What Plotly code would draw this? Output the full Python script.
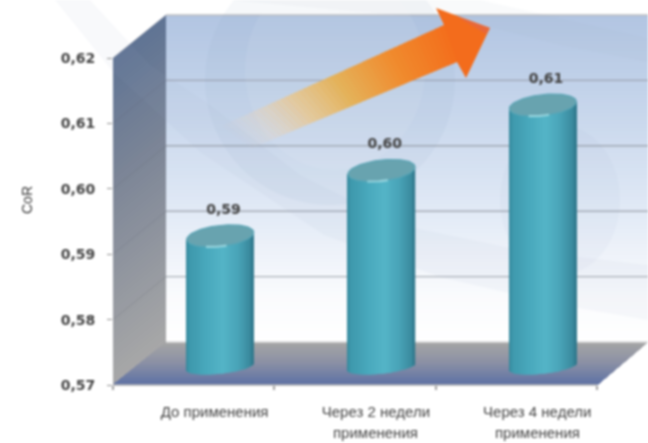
import numpy as np
import plotly.graph_objects as go

# ---- chart data ----
categories_line1 = ["До применения", "Через 2 недели", "Через 4 недели"]
categories_line2 = ["", "применения", "применения"]
values = [0.59, 0.60, 0.61]
y_ticks = [0.57, 0.58, 0.59, 0.60, 0.61, 0.62]
y_title = "CoR"

# ---- geometry (pixels of the page) ----
W, H = 648, 443
L, T, B = 113, 15, 385
PX_PER_UNIT_Y = 6540.0
PX_PER_CAT = 161.3
WALL_DX, WALL_DY = 53, 43
FRONT_R = 597


def xdata(px):
    return (px - L) / PX_PER_CAT - 0.5


def px_x(px):
    return (px - L) / (W - L)


def px_y(py):
    return (B - py) / (B - T)


def poly(points):
    return "M " + " L ".join(f"{px_x(x):.5f},{px_y(y):.5f}" for x, y in points) + " Z"


def mix(stops, t):
    ts = [s[0] for s in stops]
    chans = [np.interp(t, ts, [s[1][k] for s in stops]) for k in range(len(stops[0][1]))]
    if len(chans) == 4:
        return f"rgba({chans[0]:.0f},{chans[1]:.0f},{chans[2]:.0f},{chans[3]:.3f})"
    return f"rgb({chans[0]:.0f},{chans[1]:.0f},{chans[2]:.0f})"


shapes = []


def add_poly(points, color, layer="below"):
    shapes.append(dict(type="path", path=poly(points), xref="paper", yref="paper",
                       fillcolor=color, line=dict(width=0), layer=layer))


# back wall
back = [(0, (178, 197, 226)), (0.3, (200, 215, 236)), (0.6, (226, 234, 246)),
        (0.85, (250, 251, 253)), (1, (255, 255, 255))]
for i in range(90):
    y = T + (342 - T) * i / 90
    add_poly([(L + WALL_DX, y), (W, y), (W, 345), (L + WALL_DX, 345)], mix(back, i / 90))

# left wall
left = [(0, (96, 116, 148)), (0.35, (122, 132, 150)), (1, (168, 168, 168))]
for i in range(70):
    s = 327 * i / 70
    add_poly([(L, 58 + s), (L + WALL_DX, T + s), (L + WALL_DX, 342), (L, B)], mix(left, i / 70))

# floor
floor = [(0, (165, 165, 165)), (0.45, (140, 145, 165)), (1, (92, 112, 165))]
for i in range(40):
    f = i / 40
    y = 342 + 43 * f
    add_poly([(L + WALL_DX * (1 - f), y), (W - (W - FRONT_R) * f, y), (FRONT_R, B), (L, B)], mix(floor, f))

# gridlines on walls, from the axis values
for v in y_ticks:
    py = B - (v - 0.57) * PX_PER_UNIT_Y
    if v > 0.57:
        shapes.append(dict(type="line", xref="paper", yref="paper",
                           x0=px_x(L + WALL_DX), x1=px_x(W), y0=px_y(py - WALL_DY), y1=px_y(py - WALL_DY),
                           line=dict(color="rgba(140,145,155,0.7)" if v < 0.62 else "rgba(185,185,185,0.9)", width=1.4),
                           layer="below"))
        shapes.append(dict(type="line", xref="paper", yref="paper",
                           x0=px_x(L), x1=px_x(L + WALL_DX), y0=px_y(py), y1=px_y(py - WALL_DY),
                           line=dict(color="rgba(95,100,110,0.25)", width=1), layer="below"))
# axis edge of the floor
shapes.append(dict(type="line", xref="paper", yref="paper", x0=px_x(L), x1=px_x(FRONT_R),
                   y0=px_y(B), y1=px_y(B), line=dict(color="#b0b0b0", width=1.5), layer="below"))
shapes.append(dict(type="line", xref="paper", yref="paper", x0=px_x(L + WALL_DX), x1=px_x(W),
                   y0=px_y(342), y1=px_y(342), line=dict(color="#dcdcdc", width=1.5), layer="below"))


# watermark swooshes
def curve(xs, ys):
    return list(zip(xs, ys))


lower = curve([55, 113, 200, 324, 440, 560, 648], [0, 72, 152, 235, 277, 305, 320])
upper = curve([648, 520, 400, 300, 210, 150, 90], [265, 250, 225, 175, 105, 65, 0])
add_poly(lower + upper, "rgba(150,165,195,0.07)")
add_poly(curve([230, 300, 480, 648, 648, 560, 470], [0, 0, 0, 38, 62, 45, 22]), "rgba(150,165,195,0.06)")
theta = np.linspace(0, 2 * np.pi, 70)
blob = [(330 + 125 * np.cos(a), 80 + 125 * np.sin(a)) for a in theta]
add_poly(blob, "rgba(130,150,190,0.07)")
blob2 = [(335 + 90 * np.cos(a), 70 + 100 * np.sin(a)) for a in theta]
add_poly(blob2, "rgba(255,255,255,0.07)")
blob3 = [(560 + 60 * np.cos(a), 200 + 75 * np.sin(a)) for a in theta]
add_poly(blob3, "rgba(130,150,190,0.05)")

# arrow with fading tail
tail_u, tail_l = np.array([217.0, 128.0]), np.array([247.0, 150.0])
neck_u, neck_l = np.array([444.0, 25.0]), np.array([457.0, 62.0])
arrow_cols = [(0, (220, 210, 205, 0.0)), (0.12, (226, 212, 200, 0.35)), (0.3, (230, 200, 150, 0.85)),
              (0.5, (228, 178, 90, 1)), (0.75, (240, 138, 45, 1)), (1, (243, 110, 28, 1))]
for i in range(50):
    t = i / 50
    u = tail_u + (neck_u - tail_u) * t
    l = tail_l + (neck_l - tail_l) * t
    u2 = tail_u + (neck_u - tail_u) * (t + 1.2 / 50)
    l2 = tail_l + (neck_l - tail_l) * (t + 1.2 / 50)
    add_poly([tuple(u), tuple(u2), tuple(l2), tuple(l)], mix(arrow_cols, t))
add_poly([(436, 8), (490, 28), (466, 78), (457, 62), (444, 25)], "rgb(243,108,28)")
add_poly([(456, 16), (490, 28), (486, 34)], "rgb(232,104,58)")

# ---- cylinders, drawn from values through the axes ----
DEPTH = 18.3 / PX_PER_UNIT_Y
BAR_SHIFT = 0.165
RX = 33.5 / PX_PER_CAT
RY_TOP = 10.5 / PX_PER_UNIT_Y
RY_BOT = 7.0 / PX_PER_UNIT_Y
TILT = (3.5 / PX_PER_UNIT_Y) / RX
shade = [(-1, (52, 134, 155)), (-0.9, (62, 152, 172)), (-0.4, (72, 168, 188)), (0.1, (84, 180, 199)),
         (0.55, (72, 163, 183)), (0.9, (58, 138, 158)), (1, (46, 118, 138))]
N = 70
dxs = (np.arange(N) + 0.5) / N * 2 - 1

bx, bbase, bh, bc = [], [], [], []
for i, v in enumerate(values):
    cx = i + BAR_SHIFT
    for d in dxs:
        arc = np.sqrt(1 - d ** 2)
        bot = y_ticks[0] + DEPTH + TILT * RX * d - RY_BOT * arc
        top = v + DEPTH + TILT * RX * d
        bx.append(cx + d * RX)
        bbase.append(bot)
        bh.append(top - bot)
        bc.append(mix(shade, d))

fig = go.Figure()
fig.add_trace(go.Bar(x=bx, y=bh, base=bbase, width=2.6 * RX / N, marker=dict(color=bc, line=dict(width=0)),
                     hoverinfo="skip", showlegend=False))

a = np.linspace(0, 2 * np.pi, 90)
for i, v in enumerate(values):
    cx = i + BAR_SHIFT
    ex = cx + RX * np.cos(a)
    ey = v + DEPTH + TILT * RX * np.cos(a) + RY_TOP * np.sin(a)
    fig.add_trace(go.Scatter(x=ex, y=ey, mode="lines", fill="toself", fillcolor="rgb(104,163,175)",
                             line=dict(color="rgb(90,165,182)", width=1.2), hoverinfo="skip", showlegend=False))
    # lit rim at the front of the cap
    b = np.linspace(np.pi * 1.36, np.pi * 1.56, 15)
    fig.add_trace(go.Scatter(x=cx + RX * np.cos(b),
                             y=v + DEPTH + TILT * RX * np.cos(b) + RY_TOP * np.sin(b),
                             mode="lines", line=dict(color="rgb(150,212,222)", width=2.2),
                             hoverinfo="skip", showlegend=False))

fig.add_trace(go.Scatter(x=[i + 0.185 for i in range(len(values))],
                         y=[v + 44 / PX_PER_UNIT_Y for v in values],
                         mode="text", text=[f"{v:.2f}".replace(".", ",") for v in values],
                         textposition="middle center",
                         textfont=dict(family="DejaVu Sans", size=14, color="#444444", weight="bold"),
                         hoverinfo="skip", showlegend=False))

annotations = [dict(x=i + 0.13, y=0, xref="x", yref="paper", yanchor="top", xanchor="center",
                    yshift=-37, text=t, showarrow=False,
                    font=dict(family="Liberation Sans", size=15, color="#444444"))
               for i, t in enumerate(categories_line2) if t]

fig.update_layout(
    width=W, height=H,
    margin=dict(l=L, r=0, t=T, b=H - B),
    paper_bgcolor="white", plot_bgcolor="rgba(0,0,0,0)",
    barmode="overlay", separators=", ",
    shapes=shapes, annotations=annotations,
    xaxis=dict(range=[-0.5, xdata(W)], tickvals=[i + 0.13 for i in range(3)], ticktext=categories_line1,
               ticks="", showgrid=False, zeroline=False, showline=False, ticklabelstandoff=16,
               tickfont=dict(family="Liberation Sans", size=15, color="#444444"),
               minor=dict(tickvals=[-0.5, 0.5, 1.5, 2.5], ticks="outside", ticklen=4, tickcolor="#a0a0a0", tickwidth=1.5)),
    yaxis=dict(range=[0.57, 0.57 + (B - T) / PX_PER_UNIT_Y], tickvals=y_ticks, tickformat=".2f",
               ticks="outside", ticklen=5, tickcolor="#909090", showgrid=False, zeroline=False, showline=False,
               ticklabelstandoff=9,
               tickfont=dict(family="DejaVu Sans", size=14, color="#444444", weight="bold"),
               title=dict(text=y_title, standoff=24, font=dict(family="Liberation Sans", size=14, color="#333333"))),
)

fig.write_html("out.html", config={"displayModeBar": False}, post_script=(
    "document.body.style.margin='0';"
    "document.querySelector('.js-plotly-plot').style.filter='blur(0.8px)';"))
